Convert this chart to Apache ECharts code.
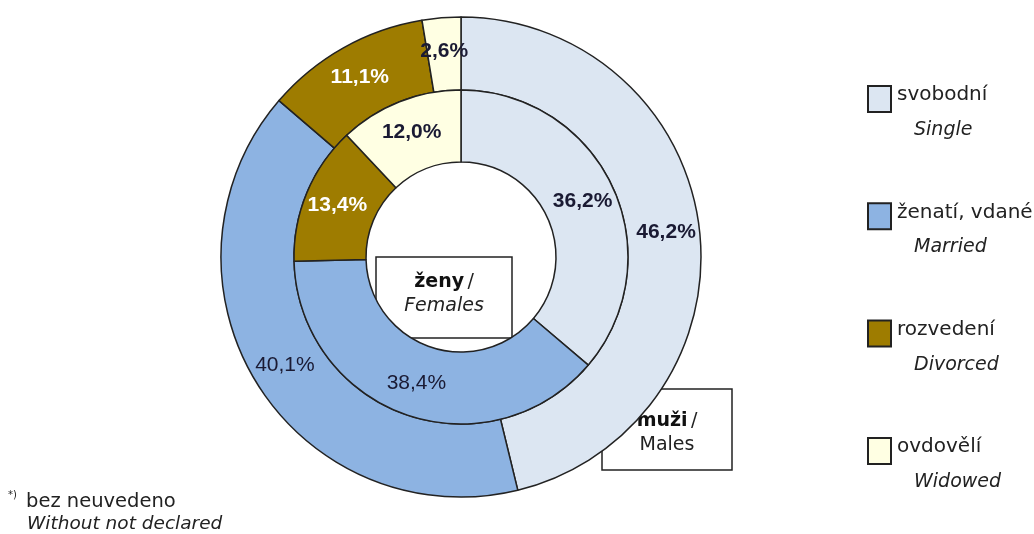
<!DOCTYPE html>
<html><head><meta charset="utf-8">
<script src="https://cdn.jsdelivr.net/npm/echarts@6/dist/echarts.min.js"></script>
<style>html,body{margin:0;padding:0;background:#fff}#c{width:1034px;height:534px}</style>
</head><body><div id="c"></div>
<script>
const categoriesCz = ['svobodní', 'ženatí, vdané', 'rozvedení', 'ovdovělí'];
const categoriesEn = ['Single', 'Married', 'Divorced', 'Widowed'];
const males = [46.2, 40.1, 11.1, 2.6];
const females = [36.2, 38.4, 13.4, 12.0];
const colors = ['#DCE6F2', '#8DB3E2', '#9E7C00', '#FFFFE3'];
const labelColorsOuter = ['#1a1a33', '#1a1a33', '#ffffff', '#1a1a33'];
const labelColorsInner = ['#1a1a33', '#1a1a33', '#ffffff', '#1a1a33'];
const boldOuter = [true, false, true, true];
const boldInner = [true, false, true, true];

const chart = echarts.init(document.getElementById('c'));
const fontA = '"Liberation Sans", Arial, sans-serif';
const fontD = '"DejaVu Sans", sans-serif';
function mk(vals, lc, bold) {
  return vals.map((v, i) => ({
    name: categoriesCz[i], value: v,
    itemStyle: { color: colors[i] },
    label: { color: lc[i], fontWeight: bold[i] ? 'bold' : 'normal' }
  }));
}
const common = {
  type: 'pie', center: [461, 257], startAngle: 90, clockwise: true,
  avoidLabelOverlap: false, silent: true,
  itemStyle: { borderColor: '#222', borderWidth: 1.5 },
  label: { show: true, position: 'inside', fontSize: 21, fontFamily: fontA,
    formatter: p => p.value.toFixed(1).replace('.', ',') + '%' },
  labelLine: { show: false },
  emphasis: { disabled: true }
};
const graphic = [];
categoriesCz.forEach((c, i) => {
  const y = 95 + i * 117.3;
  graphic.push({ type: 'rect', shape: { x: 868, y: y - 9, width: 23, height: 26 },
    style: { fill: colors[i], stroke: '#222', lineWidth: 2 } });
  graphic.push({ type: 'text', x: 897, y: y, style: { text: c, font: '20px ' + fontD, fill: '#222', verticalAlign: 'middle' } });
  graphic.push({ type: 'text', x: 914, y: y + 35, style: { text: categoriesEn[i], font: 'italic 19px ' + fontD, fill: '#222', verticalAlign: 'middle' } });
});
const richBox = { b: { font: 'bold 19px ' + fontD, fill: '#111' }, n: { font: '19px ' + fontD, fill: '#222' } };
// ženy box
graphic.push({ type: 'rect', shape: { x: 376, y: 257, width: 136, height: 81 }, style: { fill: '#fff', stroke: '#222', lineWidth: 1.5 } });
graphic.push({ type: 'text', x: 444, y: 282, style: { rich: richBox, text: '{b|ženy} {n|/}', align: 'center', verticalAlign: 'middle' } });
graphic.push({ type: 'text', x: 444, y: 306, style: { text: 'Females', font: 'italic 19px ' + fontD, fill: '#222', align: 'center', verticalAlign: 'middle' } });
// muži box
graphic.push({ type: 'rect', shape: { x: 602, y: 389, width: 130, height: 81 }, style: { fill: '#fff', stroke: '#222', lineWidth: 1.5 } });
graphic.push({ type: 'text', x: 667, y: 421, style: { rich: richBox, text: '{b|muži} {n|/}', align: 'center', verticalAlign: 'middle' } });
graphic.push({ type: 'text', x: 667, y: 445, style: { text: 'Males', font: '19px ' + fontD, fill: '#222', align: 'center', verticalAlign: 'middle' } });
// footnote
graphic.push({ type: 'text', x: 8, y: 495, style: { text: '*)', font: '10px ' + fontD, fill: '#222', verticalAlign: 'middle' } });
graphic.push({ type: 'text', x: 26, y: 502, style: { text: 'bez neuvedeno', font: '19.5px ' + fontD, fill: '#222', verticalAlign: 'middle' } });
graphic.push({ type: 'text', x: 27, y: 524, style: { text: 'Without not declared', font: 'italic 18.5px ' + fontD, fill: '#222', verticalAlign: 'middle' } });

chart.setOption({
  animation: false,
  backgroundColor: '#fff',
  series: [
    Object.assign({}, common, { name: 'muži', radius: [167, 240], data: mk(males, labelColorsOuter, boldOuter) }),
    Object.assign({}, common, { name: 'ženy', radius: [95, 167], data: mk(females, labelColorsInner, boldInner) })
  ],
  graphic: graphic
});
</script></body></html>
